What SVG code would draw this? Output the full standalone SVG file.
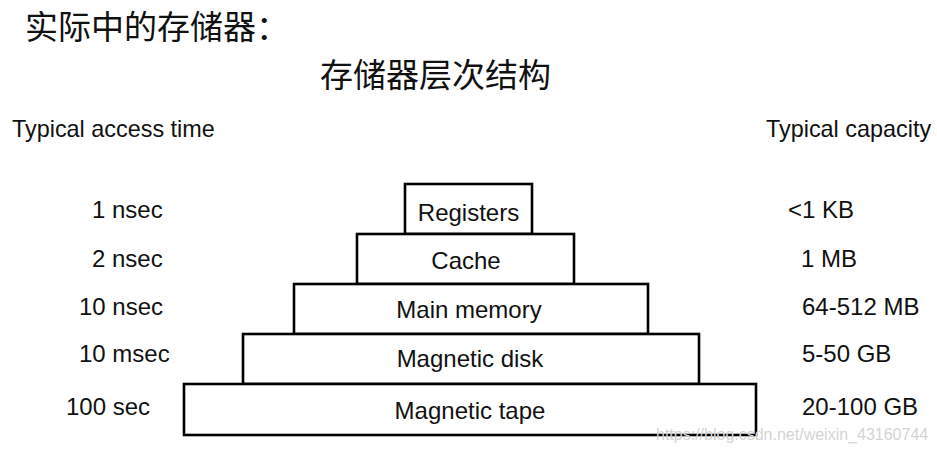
<svg xmlns="http://www.w3.org/2000/svg" width="937" height="451" viewBox="0 0 937 451">
<style>
.cjk{font-family:"Noto Sans CJK SC","Noto Sans CJK JP",sans-serif;font-size:33px;fill:#111}
.hdr{font-family:"Liberation Sans",Arial,sans-serif;font-size:23.4px;fill:#111}
.lbl{font-family:"Liberation Sans",Arial,sans-serif;font-size:24px;fill:#111}
.box rect{fill:#fff;stroke:#000;stroke-width:2.6}
.box text{font-family:"Liberation Sans",Arial,sans-serif;font-size:24px;fill:#111;text-anchor:middle}
.wm{font-family:"Liberation Sans",Arial,sans-serif;font-size:16px;fill:#d4d4d4}
</style>
<rect width="937" height="451" fill="#fff"/>
<text class="cjk" x="25" y="39">实际中的存储器：</text>
<text class="cjk" x="320" y="87">存储器层次结构</text>
<g id="headers">
<text class="hdr" x="12" y="137">Typical access time</text>
<text class="hdr" x="766" y="137">Typical capacity</text>
</g>
<g id="access-times">
<text class="lbl" x="92" y="218">1 nsec</text>
<text class="lbl" x="92" y="267">2 nsec</text>
<text class="lbl" x="79" y="315">10 nsec</text>
<text class="lbl" x="79" y="362">10 msec</text>
<text class="lbl" x="66" y="415">100 sec</text>
</g>
<g id="capacities">
<text class="lbl" x="788" y="218">&lt;1 KB</text>
<text class="lbl" x="801" y="267">1 MB</text>
<text class="lbl" x="802" y="315">64-512 MB</text>
<text class="lbl" x="802" y="362">5-50 GB</text>
<text class="lbl" x="802" y="415">20-100 GB</text>
</g>
<g id="connectors"></g>
<g id="registers" class="box"><rect x="405" y="184" width="127" height="50"/><text x="468.5" y="221">Registers</text></g>
<g id="cache" class="box"><rect x="357" y="234" width="217" height="50"/><text x="466" y="269">Cache</text></g>
<g id="main-memory" class="box"><rect x="294" y="284" width="354" height="50"/><text x="469" y="318">Main memory</text></g>
<g id="magnetic-disk" class="box"><rect x="243" y="334" width="456" height="50"/><text x="470" y="367">Magnetic disk</text></g>
<g id="magnetic-tape" class="box"><rect x="184" y="384" width="572" height="51"/><text x="470" y="419">Magnetic tape</text></g>
<text class="wm" x="656" y="440">https://blog.csdn.net/weixin_43160744</text>
</svg>
